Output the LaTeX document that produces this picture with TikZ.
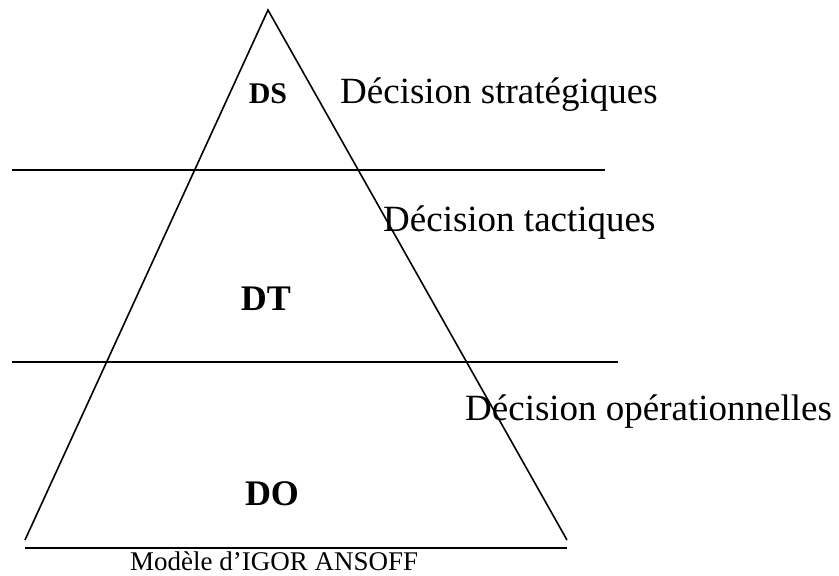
\documentclass[tikz,border=0pt]{standalone}
\usepackage{fontspec}
\setmainfont{Liberation Serif}
\usepackage{tikz}
\usetikzlibrary{positioning}

\begin{document}
\begin{tikzpicture}[
  x=1pt, y=-1pt,
  trait/.style={line width=1.6pt, black},
  niveau/.style={font=\fontsize{#1}{#1}\selectfont\bfseries, inner sep=0pt, anchor=base},
  niveau/.default=36,
  decision/.style={font=\fontsize{37}{40}\selectfont, inner sep=0pt, anchor=base west},
  legende/.style={font=\fontsize{27}{30}\selectfont, inner sep=0pt, anchor=base west},
]
\useasboundingbox (0,0) rectangle (839,576);
% Sommets de la pyramide
\coordinate (sommet) at (268,10);
\coordinate (basg)   at (25,540);
\coordinate (basd)   at (567,540);
% Traits horizontaux
\coordinate (l1g) at (12,170);  \coordinate (l1d) at (605,170);
\coordinate (l2g) at (12,362);  \coordinate (l2d) at (618,362);
\coordinate (l3g) at (25,548);  \coordinate (l3d) at (567,548);
\draw[trait] (basg) -- (sommet) -- (basd);
\draw[trait] (l1g) -- (l1d);
\draw[trait] (l2g) -- (l2d);
\draw[trait] (l3g) -- (l3d);
% Niveaux
\node[niveau=30] (ds) at (268,103) {DS};
\node[niveau]    (dt) at (266,310) {DT};
\node[niveau]    (do) at (272,505) {DO};
% Décisions
\node[decision] (strat) at (340,103) {Décision stratégiques};
\node[decision] (tact)  at (383,231) {Décision tactiques};
\node[decision] (oper)  at (465,420) {Décision opérationnelles};
% Légende
\node[legende] (modele) at (130,570) {Modèle d’IGOR ANSOFF};
\end{tikzpicture}
\end{document}
